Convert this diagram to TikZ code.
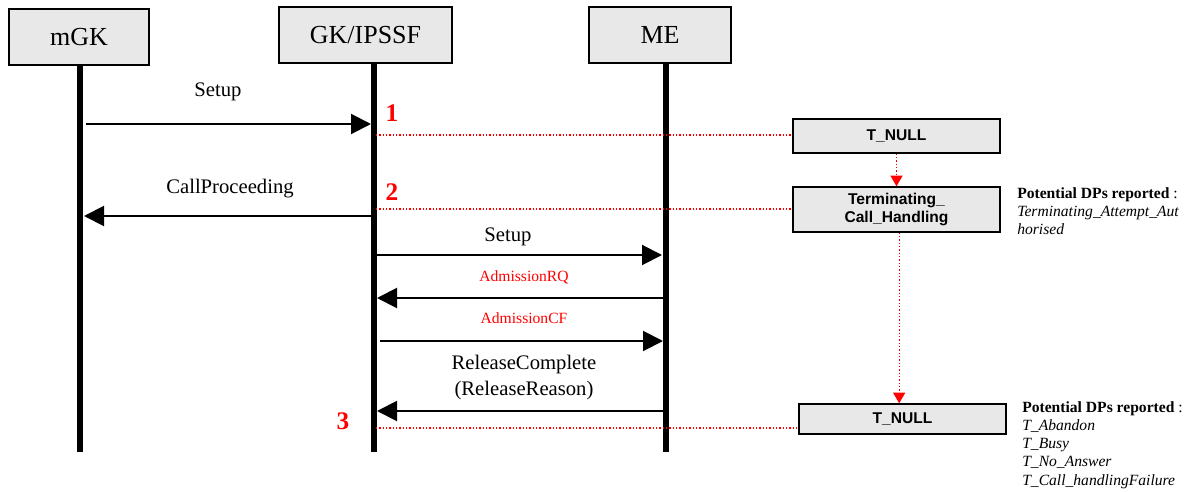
\documentclass[tikz,border=0pt]{standalone}
\usepackage{fontspec}
\setmainfont{Liberation Serif}
\setsansfont{Liberation Sans}
\usetikzlibrary{arrows.meta,shadows}
\definecolor{boxgray}{RGB}{232,232,232}
\tikzset{
	boxshadow/.style={drop shadow={shadow xshift=0.8pt,shadow yshift=-0.8pt,fill=black!70,opacity=1}},
	head/.style={draw,line width=1pt,fill=boxgray,boxshadow,inner sep=0pt,minimum height=42pt,font=\fontsize{19.5}{22}\selectfont},
	state/.style={draw,line width=1pt,fill=boxgray,boxshadow,inner sep=0pt,minimum width=155.25pt,align=center,font=\sffamily\bfseries\fontsize{11.7}{13.5}\selectfont},
	life/.style={line width=4.5pt},
	msg/.style={line width=1.5pt,-{Triangle[length=15pt,width=15pt]}},
	lbl/.style={font=\fontsize{15.5}{19.5}\selectfont,align=center},
	redlbl/.style={text=red,font=\fontsize{11.7}{14}\selectfont},
	num/.style={text=red,font=\bfseries\fontsize{19}{21}\selectfont},
	dpline/.style={red,line width=1pt,dash pattern=on 0.9pt off 1.6pt},
	trans/.style={red,line width=1pt,dash pattern=on 0.9pt off 1.6pt,-{Triangle[length=8pt,width=9pt]}},
	note/.style={anchor=north west,align=left,inner sep=0pt,font=\fontsize{11.7}{13.7}\selectfont}
}
\begin{document}
\begin{tikzpicture}[x=0.75pt,y=-0.75pt]
\useasboundingbox (0,0) rectangle (1192,492);
	\node[head,minimum width=105pt] (mgk) at (79,37) {mGK};
	\node[head,minimum width=129.75pt] (gk) at (365.5,35) {GK/IPSSF};
	\node[head,minimum width=106.5pt] (me) at (660,35) {ME};
	\coordinate (mgkB) at (80,452);
	\coordinate (gkB) at (374,452);
	\coordinate (meB) at (666,452);
		\draw[life] (mgkB |- mgk.south) -- (mgkB);
		\draw[life] (gkB |- gk.south) -- (gkB);
		\draw[life] (meB |- me.south) -- (meB);

	\node[state,minimum height=25.5pt] (tnull) at (896.5,136) {T\_NULL};
	\node[state,minimum height=33.75pt] (tch) at (896.5,209.5) {Terminating\_\\Call\_Handling};
	\node[state,minimum height=22.5pt] (tnullb) at (902.5,419) {T\_NULL};
		\draw[trans] (tnull.south) -- (tch.north);
		\draw[trans] ([xshift=2pt]tch.south) -- ([xshift=2pt]tch.south |- tnullb.north);

	\coordinate (s1a) at (86,124);  \coordinate (s1b) at (371,124);
	\coordinate (cpa) at (371,216); \coordinate (cpb) at (84,216);
	\coordinate (s2a) at (377,255); \coordinate (s2b) at (662,255);
	\coordinate (rqa) at (663,298); \coordinate (rqb) at (377,298);
	\coordinate (cfa) at (380,341); \coordinate (cfb) at (663,341);
	\coordinate (rca) at (663,411); \coordinate (rcb) at (377,411);
		\draw[msg] (s1a) -- (s1b);
		\draw[msg] (cpa) -- (cpb);
		\draw[msg] (s2a) -- (s2b);
		\draw[msg] (rqa) -- (rqb);
		\draw[msg] (cfa) -- (cfb);
		\draw[msg] (rca) -- (rcb);
	\node[lbl] (l1) at (218,92) {Setup};
	\node[lbl] (l2) at (230,189) {CallProceeding};
	\node[lbl] (l3) at (508,237) {Setup};
	\node[redlbl] (l4) at (524,277) {AdmissionRQ};
	\node[redlbl] (l5) at (524,318) {AdmissionCF};
	\node[lbl] (l6) at (524,378) {ReleaseComplete\\(ReleaseReason)};

	\coordinate (p1) at (376,135);
	\coordinate (p2) at (376,209);
	\coordinate (p3) at (376,428);
		\draw[dpline] (p1) -- (tnull.west |- p1);
		\draw[dpline] (p2) -- (tch.west |- p2);
		\draw[dpline] (p3) -- (tnullb.west |- p3);
	\node[num] (n1) at (392,113) {1};
	\node[num] (n2) at (392,192) {2};
	\node[num] (n3) at (343,421) {3};

	\node[note] (dp1) at (1017,187) {\textbf{Potential DPs reported} :\\\textit{Terminating\_Attempt\_Aut}\\\textit{horised}};
	\node[note] (dp2) at (1022,401) {\textbf{Potential DPs reported} :\\\textit{T\_Abandon}\\\textit{T\_Busy}\\\textit{T\_No\_Answer}\\\textit{T\_Call\_handlingFailure}};
\end{tikzpicture}
\end{document}
